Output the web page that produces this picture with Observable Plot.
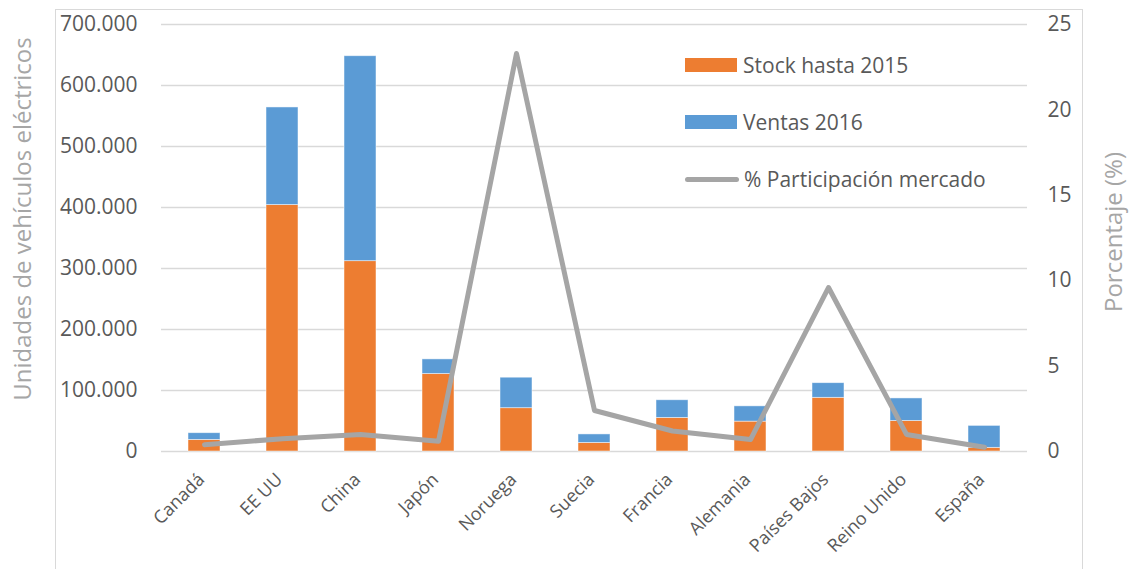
<!DOCTYPE html>
<html>
<head>
<meta charset="utf-8">
<script src="https://cdn.jsdelivr.net/npm/d3@7"></script>
<script src="https://cdn.jsdelivr.net/npm/@observablehq/plot@0.6"></script>
<style>
  body { margin: 0; background: #fff; overflow: hidden; }
  #chart { position: relative; width: 1133px; height: 569px; font-family: "Open Sans", sans-serif; }
  #frame { position: absolute; left: 55px; top: 9px; width: 1028px; height: 600px; border: 1.5px solid #d9d9d9; box-sizing: border-box; pointer-events: none; }
  #legend { position: absolute; left: 685px; top: 52px; color: #595959; font-size: 21px; }
  .item { display: flex; align-items: center; height: 26px; margin-bottom: 31px; white-space: nowrap; }
  .sw { width: 52px; height: 14px; margin-right: 6px; }
  .ln { width: 54px; height: 5px; border-radius: 3px; margin-right: 5px; }
</style>
</head>
<body>
<div id="chart">
  <div id="frame"></div>
</div>
<script>
// Vehículos eléctricos por país: stock acumulado hasta 2015, ventas de 2016
// y participación en el mercado (%)
const paises = ["Canadá", "EE UU", "China", "Japón", "Noruega", "Suecia", "Francia", "Alemania", "Países Bajos", "Reino Unido", "España"];
const stock2015 = [19000, 404000, 312000, 127000, 71000, 14000, 55000, 49000, 88000, 50000, 6000];
const ventas2016 = [11000, 160000, 336000, 24000, 50000, 14000, 29000, 25000, 24000, 37000, 36000];
const participacion = [0.4, 0.75, 1.0, 0.6, 23.3, 2.4, 1.2, 0.7, 9.6, 1.0, 0.25];

const series = ["Stock hasta 2015", "Ventas 2016", "% Participación mercado"];
const colores = ["#ed7d31", "#5b9bd5", "#a5a5a5"];
const ticksUnidades = [0, 100000, 200000, 300000, 400000, 500000, 600000, 700000];
const ticksPorcentaje = [0, 5, 10, 15, 20, 25];

// The percentage series shares the left scale: 25 % maps to 700.000 units
const K = 700000 / 25;

const barras = paises.flatMap((p, i) => [
  {pais: p, serie: series[0], valor: stock2015[i]},
  {pais: p, serie: series[1], valor: ventas2016[i]}
]);
const linea = paises.map((p, i) => ({pais: p, pct: participacion[i]}));

const fmtMiles = d3.formatLocale({decimal: ",", thousands: ".", grouping: [3], currency: ["", ""]}).format(",");

const textColor = "#595959";
const titleColor = "#a6a6a6";

const plot = Plot.plot({
  width: 1133,
  height: 569,
  marginLeft: 161,
  marginRight: 106,
  marginTop: 24,
  marginBottom: 118,
  style: {fontFamily: "\"Open Sans\", sans-serif", fontSize: "20px", color: textColor, background: "transparent"},
  x: {domain: paises, paddingInner: 0.59, paddingOuter: 0.295},
  y: {domain: [0, 700000]},
  color: {domain: series.slice(0, 2), range: colores.slice(0, 2)},
  marks: [
    Plot.gridY(ticksUnidades, {stroke: "#d9d9d9", strokeOpacity: 1, strokeWidth: 1.5}),
    Plot.barY(barras, {x: "pais", y: "valor", fill: "serie", stroke: "#fff", strokeWidth: 0.8, strokeOpacity: 0.6}),
    Plot.lineY(linea, {x: "pais", y: d => d.pct * K, stroke: colores[2], strokeWidth: 5, strokeLinejoin: "round", strokeLinecap: "round"}),
    Plot.axisY({
      anchor: "left", ticks: ticksUnidades, tickFormat: fmtMiles, tickSize: 0, tickPadding: 24,
      fontSize: 21, fill: textColor,
      label: "Unidades de vehículos eléctricos", labelAnchor: "center", labelArrow: "none", labelOffset: 148
    }),
    Plot.axisY({
      anchor: "right", ticks: ticksPorcentaje.map(v => v * K), tickFormat: d => String(Math.round(d / K)),
      tickSize: 0, tickPadding: 20, fontSize: 21, fill: textColor,
      label: "Porcentaje (%)", labelAnchor: "center", labelArrow: "none", labelOffset: 94
    }),
    Plot.axisX({tickSize: 0, tickPadding: 25, dx: -3, tickRotate: -45, fontSize: 18, fill: textColor, label: null})
  ]
});

// Axis titles in light grey, nudged to sit centred on the plot body
const shifts = [-19, -6];
plot.querySelectorAll("g[aria-label='y-axis label'] text").forEach((t, i) => {
  t.setAttribute("fill", titleColor);
  t.style.fontSize = "24px";
  const tr = t.getAttribute("transform") || "";
  t.setAttribute("transform", `translate(0,${shifts[i] ?? 0}) ${tr}`);
});

const chart = document.getElementById("chart");
chart.insertBefore(plot, chart.firstChild);

// Legend
const legend = document.createElement("div");
legend.id = "legend";
series.forEach((s, i) => {
  const item = document.createElement("div");
  item.className = "item";
  const sw = document.createElement("div");
  sw.className = i < 2 ? "sw" : "ln";
  sw.style.background = colores[i];
  const label = document.createElement("span");
  label.textContent = s;
  item.append(sw, label);
  legend.append(item);
});
chart.append(legend);
</script>
</body>
</html>
